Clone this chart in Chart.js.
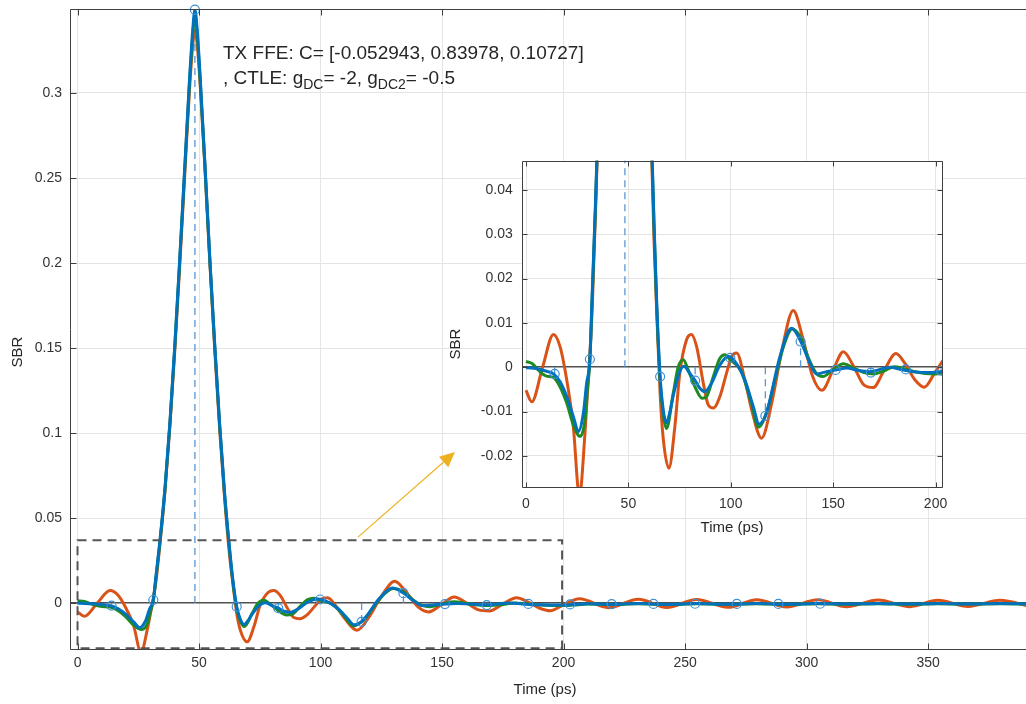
<!DOCTYPE html>
<html><head><meta charset="utf-8">
<script src="https://cdn.jsdelivr.net/npm/chart.js@4.4.1/dist/chart.umd.min.js"></script>
<style>
html,body{margin:0;padding:0;background:#fff;overflow:hidden;}
#wrap{position:relative;width:1026px;height:704px;}
#main{position:absolute;left:0;top:0;width:1026px;height:704px;}
#inset{position:absolute;left:430px;top:150px;width:530px;height:395px;}
</style></head><body>
<div id="wrap"><canvas id="main" width="1026" height="704"></canvas><canvas id="inset" width="530" height="395"></canvas></div>
<script>
// ---------- data (time in ps, SBR value) ----------
const orangePts = [[0,-0.0052],[2.8,-0.0078],[8.1,0],[13.4,0.0074],[16.6,0.0047],[19.9,-0.0029],[23.1,-0.0134],[26.1,-0.029],[28.8,-0.0149],[30.8,0],[32.3,0.013],[34,0.036],[36,0.066],[38,0.104],[40,0.148],[42,0.197],[44,0.249],[46,0.300],[47.4,0.328],[48.3,0.337],[49.2,0.329],[50.6,0.302],[52.5,0.254],[54.5,0.199],[56.5,0.148],[58.5,0.102],[60.5,0.062],[62.5,0.029],[63.8,0.013],[65.5,-0.006],[67,-0.016],[69.8,-0.0228],[72.7,-0.0134],[75.1,-0.0014],[78.4,0.0062],[80.8,0.0074],[83.3,0.0047],[86.6,-0.0036],[89,-0.0085],[91.5,-0.0092],[94.7,-0.0066],[97.9,-0.0014],[100.4,0.0024],[102.9,0.0032],[106.9,-0.0029],[110.2,-0.0096],[115,-0.016],[120,-0.0081],[125,0.0039],[130.5,0.0128],[135,0.0069],[140,-0.0021],[144.5,-0.0052],[150,-0.0006],[155,0.0035],[160,0.0002],[165,-0.004],[169.5,-0.0046],[175,-0.0006],[180.7,0.0031],[185,0.0009],[190,-0.0029],[194.5,-0.0045],[200,-0.001],[206.5,0.0026],[218.5,-0.0027],[230.8,0.0022],[242.5,-0.0026],[254.8,0.0021],[267.6,-0.0025],[279.5,0.002],[291.8,-0.0023],[304.7,0.0019],[316.5,-0.0022],[329.4,0.0018],[342.6,-0.0021],[354,0.0017],[366.5,-0.002],[379.6,0.0016],[392,-0.0019]];
const greenPts = [[0,0.0013],[2.8,0.0009],[6.8,-0.001],[10,-0.002],[13.4,-0.0023],[16.6,-0.0044],[19.9,-0.0081],[23.1,-0.013],[26.4,-0.0156],[28.8,-0.0119],[30,-0.005],[31.2,0.0015],[32.2,0.014],[34,0.037],[36,0.067],[38,0.105],[40,0.15],[42,0.2],[44,0.252],[46,0.304],[47.4,0.334],[48.3,0.346],[49.2,0.335],[50.6,0.304],[52.5,0.255],[54.5,0.2],[56.5,0.15],[58.5,0.104],[60.5,0.064],[62.5,0.032],[63.8,0.014],[65.5,-0.003],[67,-0.0105],[68.6,-0.0138],[71.9,-0.0059],[74.3,0],[76.8,0.0017],[79.2,-0.0006],[82.5,-0.0044],[86,-0.007],[88.2,-0.0066],[91.5,-0.0021],[94.7,0.002],[97.2,0.0028],[99.6,0.0017],[105,-0.0008],[110,-0.008],[113.5,-0.0135],[118,-0.0095],[122,-0.002],[126,0.005],[130,0.0086],[134,0.0068],[138,0.002],[142,-0.0015],[145,-0.0021],[150,-0.0005],[155,0.0008],[160,-0.0002],[165,-0.0012],[170,-0.0015],[175,-0.0008],[180,0.0001],[185,-0.0004],[190,-0.001],[195,-0.0014],[200,-0.0015],[204,-0.0012],[210,-0.0006],[218.5,-0.0009],[230.8,-0.0004],[242.5,-0.0009],[254.8,-0.0004],[267.6,-0.0008],[279.5,-0.0004],[291.8,-0.0008],[304.7,-0.0004],[316.5,-0.0007],[329.4,-0.0004],[342.6,-0.0007],[354,-0.0004],[366.5,-0.0006],[379.6,-0.0004],[392,-0.0006]];
const bluePts = [[0,-0.0001],[3,-0.0002],[6,-0.0004],[10,-0.0009],[13.4,-0.0015],[16.6,-0.0032],[19.9,-0.0066],[23.1,-0.0111],[25.6,-0.0145],[28,-0.0104],[29.6,-0.0036],[31.2,0.0018],[32.2,0.015],[34,0.038],[36,0.068],[38,0.106],[40,0.151],[42,0.201],[44,0.253],[46,0.306],[47.4,0.337],[48.3,0.349],[49.2,0.338],[50.6,0.306],[52.5,0.256],[54.5,0.201],[56.5,0.151],[58.5,0.105],[60.5,0.065],[62.5,0.033],[63.8,0.015],[65.5,-0.0021],[67,-0.0095],[68.6,-0.0126],[70.3,-0.010],[72,-0.0062],[75.1,-0.001],[77.1,0.0002],[80,-0.0014],[82.6,-0.003],[85,-0.0048],[87.4,-0.0055],[90.6,-0.0036],[94.7,0.0005],[98.8,0.0024],[102,0.0013],[106.9,-0.0029],[111,-0.0089],[113.8,-0.0128],[116.9,-0.011],[119.1,-0.0074],[124,0.0024],[129.7,0.0088],[133.8,0.0062],[138.7,0.0009],[141.9,-0.0015],[146.8,-0.001],[151.8,-0.0006],[156.6,-0.0002],[162,-0.0007],[168,-0.001],[177.8,0],[183,-0.0005],[189.1,-0.001],[197.3,-0.0012],[203.8,-0.0009],[210,-0.0004],[218.5,-0.0008],[230.8,-0.0003],[242.5,-0.0008],[254.8,-0.0003],[267.6,-0.0007],[279.5,-0.0003],[291.8,-0.0007],[304.7,-0.0003],[316.5,-0.0006],[329.4,-0.0003],[342.6,-0.0006],[354,-0.0003],[366.5,-0.0005],[379.6,-0.0003],[392,-0.0005]];
const samplePts = [[14.0,-0.0015],[31.2,0.0018],[48.3,0.349],[65.5,-0.0021],[82.6,-0.003],[99.8,0.0021],[116.9,-0.011],[134.1,0.0058],[151.2,-0.0006],[168.4,-0.0012],[185.5,-0.0005],[202.7,-0.0008],[219.8,-0.0006],[237.0,-0.0005],[254.1,-0.0004],[271.3,-0.0005],[288.4,-0.0005],[305.6,-0.0004]];

const xTicksMain = [0,50,100,150,200,250,300,350];
const yTicksMain = [0,0.05,0.1,0.15,0.2,0.25,0.3];
const yTickLabelsMain = ['0','0.05','0.1','0.15','0.2','0.25','0.3'];
const xTicksInset = [0,50,100,150,200];
const yTicksInset = [-0.02,-0.01,0,0.01,0.02,0.03,0.04];
const yTickLabelsInset = ['-0.02','-0.01','0','0.01','0.02','0.03','0.04'];
const zoomBoxT = [0,199.4];
const zoomBoxV = [-0.0265,0.037];
const arrowFrom = [115.4,0.0388];
const arrowTo = [155.3,0.0888];
const annotLine1 = 'TX FFE: C= [-0.052943, 0.83978, 0.10727]';

// ---------- styling ----------
const FONT = '"Liberation Sans", Arial, Helvetica, sans-serif';
const AXC = '#404040';
Chart.defaults.font.family = FONT;

function toXY(arr){return arr.map(p=>({x:p[0],y:p[1]}));}
function stems(arr){const out=[];arr.forEach(p=>{out.push({x:p[0],y:0},{x:p[0],y:p[1]},{x:p[0],y:null});});return out;}

function makeDatasets(isMain){
  const s = {label:'samples',data:toXY(samplePts),showLine:false,pointRadius:4.5,pointHoverRadius:4.5,
    pointStyle:'circle',pointBorderColor:'#3d8fd6',pointBackgroundColor:'rgba(0,0,0,0)',pointBorderWidth:1.2,order:0};
  if(isMain) s.clip = false;
  const line = (label,pts,color,order)=>({label,data:toXY(pts),showLine:true,borderColor:color,borderWidth:3,
    pointRadius:0,cubicInterpolationMode:'monotone',order});
  return [
    s,
    line('blue',bluePts,'#0072BD',1),
    line('green',greenPts,'#1f8a22',2),
    line('orange',orangePts,'#D95319',3),
    {label:'stems',data:stems(samplePts),showLine:true,spanGaps:false,borderColor:'rgba(80,145,210,0.95)',
      borderWidth:1.3,borderDash:[7,5],pointRadius:0,tension:0,order:4}
  ];
}

function gridCfg(){
  return {
    color: c => (c.tick && c.tick.value===0) ? '#505050' : '#e4e4e4',
    lineWidth: c => (c.tick && c.tick.value===0) ? 1.5 : 1,
    drawTicks:false
  };
}
function gridX(){ return {color:'#e4e4e4',lineWidth:1,drawTicks:false}; }

function boxPlugin(sides, tl){
  return {id:'box'+sides, afterDatasetsDraw(chart){
    const {ctx, chartArea:a, scales:{x,y}} = chart;
    ctx.save(); ctx.strokeStyle = AXC; ctx.lineWidth = 1; ctx.beginPath();
    const L=Math.round(a.left)+0.5, R=Math.round(a.right)-0.5, T=Math.round(a.top)+0.5, B=Math.round(a.bottom)-0.5;
    if(sides.includes('l')){ctx.moveTo(L,T);ctx.lineTo(L,B);}
    if(sides.includes('r')){ctx.moveTo(R,T);ctx.lineTo(R,B);}
    if(sides.includes('t')){ctx.moveTo(L,T);ctx.lineTo(a.right,T);}
    if(sides.includes('b')){ctx.moveTo(L,B);ctx.lineTo(a.right,B);}
    x.ticks.forEach(t=>{const px=Math.round(x.getPixelForValue(t.value))+0.5; if(px<a.left||px>a.right) return;
      if(sides.includes('b')){ctx.moveTo(px,B);ctx.lineTo(px,B-tl);}
      if(sides.includes('t')){ctx.moveTo(px,T);ctx.lineTo(px,T+tl);} });
    y.ticks.forEach(t=>{const py=Math.round(y.getPixelForValue(t.value))+0.5;
      if(sides.includes('l')){ctx.moveTo(L,py);ctx.lineTo(L+tl,py);}
      if(sides.includes('r')){ctx.moveTo(R,py);ctx.lineTo(R-tl,py);} });
    ctx.stroke(); ctx.restore();
  }};
}

function titles(sbrX, sbrY, timeX, timeY){
  return {id:'titles', afterDraw(chart){
    const ctx = chart.ctx; ctx.save(); ctx.fillStyle='#262626'; ctx.font='15px '+FONT;
    ctx.textAlign='center'; ctx.textBaseline='middle';
    ctx.fillText('Time (ps)', timeX, timeY);
    ctx.translate(sbrX, sbrY); ctx.rotate(-Math.PI/2); ctx.fillText('SBR',0,0);
    ctx.restore();
  }};
}

const annotPlugin = {id:'annot', afterDraw(chart){
  const {ctx, scales:{x,y}} = chart;
  ctx.save();
  // dashed zoom box
  ctx.strokeStyle='#555'; ctx.lineWidth=2; ctx.setLineDash([9,6]);
  const x0=x.getPixelForValue(zoomBoxT[0]), x1=x.getPixelForValue(zoomBoxT[1]);
  const y0=y.getPixelForValue(zoomBoxV[1]), y1=y.getPixelForValue(zoomBoxV[0]);
  ctx.strokeRect(x0,y0,x1-x0,y1-y0);
  ctx.setLineDash([]);
  // arrow
  const ax0=x.getPixelForValue(arrowFrom[0]), ay0=y.getPixelForValue(arrowFrom[1]);
  const ax1=x.getPixelForValue(arrowTo[0]), ay1=y.getPixelForValue(arrowTo[1]);
  const ang=Math.atan2(ay1-ay0, ax1-ax0), hl=15, hw=7;
  ctx.strokeStyle='#EDB120'; ctx.lineWidth=1.2; ctx.beginPath();
  ctx.moveTo(ax0,ay0); ctx.lineTo(ax1-hl*Math.cos(ang), ay1-hl*Math.sin(ang)); ctx.stroke();
  ctx.fillStyle='#EDB120'; ctx.beginPath(); ctx.moveTo(ax1,ay1);
  ctx.lineTo(ax1-hl*Math.cos(ang)+hw*Math.sin(ang), ay1-hl*Math.sin(ang)-hw*Math.cos(ang));
  ctx.lineTo(ax1-hl*Math.cos(ang)-hw*Math.sin(ang), ay1-hl*Math.sin(ang)+hw*Math.cos(ang));
  ctx.closePath(); ctx.fill();
  // annotation text
  ctx.fillStyle='#262626'; ctx.textAlign='left'; ctx.textBaseline='alphabetic';
  ctx.font='19px '+FONT; ctx.fillText(annotLine1, 223, 59);
  let cx=223; const by=84;
  const seg=(txt,size,dy)=>{ctx.font=size+'px '+FONT; ctx.fillText(txt,cx,by+dy); cx+=ctx.measureText(txt).width;};
  seg(', CTLE: g',19,0); seg('DC',14,5); seg('= -2, g',19,0); seg('DC2',14,5); seg('= -0.5',19,0);
  ctx.restore();
}};

const whiteBg = {id:'whiteBg', beforeDraw(chart){
  const {ctx, chartArea:a} = chart; ctx.save(); ctx.fillStyle='#fff';
  ctx.fillRect(a.left,a.top,a.right-a.left,a.bottom-a.top); ctx.restore();
}};

const tickFont = {size:14, family:FONT};
const fixX = h => s => { s.height = h; s.paddingLeft = 0; s.paddingRight = 0; s.paddingTop = 0; s.paddingBottom = 0; };
const fixY = w => s => { s.width = w; s.paddingLeft = 0; s.paddingRight = 0; s.paddingTop = 0; s.paddingBottom = 0; };

new Chart(document.getElementById('main'), {
  type:'scatter',
  data:{datasets:makeDatasets(true)},
  options:{
    responsive:false, animation:false, devicePixelRatio:1,
    layout:{autoPadding:false, padding:{left:0,right:0,top:9,bottom:0}},
    plugins:{legend:{display:false},tooltip:{enabled:false}},
    events:[],
    scales:{
      x:{type:'linear',min:-3.1,max:390.3,
        afterBuildTicks:s=>{s.ticks=xTicksMain.map(v=>({value:v}));},
        afterFit:fixX(54),
        grid:gridX(), border:{display:false},
        ticks:{color:'#333',font:tickFont,padding:5,maxRotation:0,autoSkip:false,callback:v=>String(v)}},
      y:{type:'linear',min:-0.0276,max:0.3494,
        afterBuildTicks:s=>{s.ticks=yTicksMain.map(v=>({value:v}));},
        afterFit:fixY(70),
        grid:gridCfg(), border:{display:false},
        ticks:{color:'#333',font:tickFont,padding:8,autoSkip:false,
          callback:v=>{const i=yTicksMain.findIndex(t=>Math.abs(t-v)<1e-9);return i>=0?yTickLabelsMain[i]:'';}}}
    }
  },
  plugins:[boxPlugin('ltb',6), annotPlugin, titles(18,352,545,690)]
});

new Chart(document.getElementById('inset'), {
  type:'scatter',
  data:{datasets:makeDatasets(false)},
  options:{
    responsive:false, animation:false, devicePixelRatio:1,
    layout:{autoPadding:false, padding:{left:0,right:17.3,top:10.7,bottom:0}},
    plugins:{legend:{display:false},tooltip:{enabled:false}},
    events:[],
    scales:{
      x:{type:'linear',min:-2.1,max:203.5,
        afterBuildTicks:s=>{s.ticks=xTicksInset.map(v=>({value:v}));},
        afterFit:fixX(57),
        grid:gridX(), border:{display:false},
        ticks:{color:'#333',font:tickFont,padding:8,maxRotation:0,autoSkip:false,callback:v=>String(v)}},
      y:{type:'linear',min:-0.02725,max:0.0466,
        afterBuildTicks:s=>{s.ticks=yTicksInset.map(v=>({value:v}));},
        afterFit:fixY(91.7),
        grid:gridCfg(), border:{display:false},
        ticks:{color:'#333',font:tickFont,padding:9,autoSkip:false,
          callback:v=>{const i=yTicksInset.findIndex(t=>Math.abs(t-v)<1e-9);return i>=0?yTickLabelsInset[i]:'';}}}
    }
  },
  plugins:[whiteBg, boxPlugin('ltbr',5), titles(26,194,302,378)]
});
</script>
</body></html>
